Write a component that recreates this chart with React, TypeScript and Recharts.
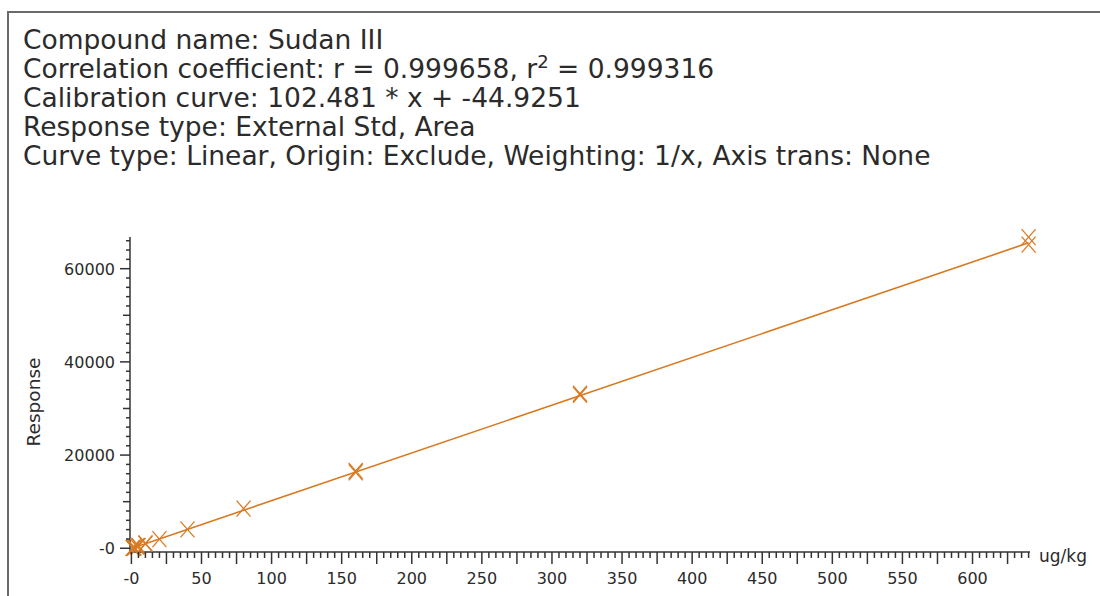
import React from 'react';
import { ComposedChart, Scatter, Line, XAxis, YAxis } from 'recharts';

// ---- text ----
const compoundLine = 'Compound name: Sudan III';
const corrPrefix = 'Correlation coefficient: r = 0.999658, r';
const corrSuffix = ' = 0.999316';
const calibLine = 'Calibration curve: 102.481 * x + -44.9251';
const responseLine = 'Response type: External Std, Area';
const curveLine = 'Curve type: Linear, Origin: Exclude, Weighting: 1/x, Axis trans: None';
const xUnitLabel = 'ug/kg';
const yTitle = 'Response';

// ---- data ----
const concX = [1, 1, 2, 2, 4, 5, 5, 10, 10, 20, 40, 80, 160, 160, 320, 320, 640, 640];
const respY = [70, 40, 160, 190, 380, 470, 520, 980, 1050, 1950, 4070, 8500, 16600, 16300, 33200, 32950, 66780, 65150];
const fitX = [0, 640];
const fitY = [-44.9, 65543];

// ---- axes ----
const xDomain = [-1, 641];
const yDomain = [-800, 66800];
const xLabelTicks = [0, 50, 100, 150, 200, 250, 300, 350, 400, 450, 500, 550, 600];
const yLabelTicks = [0, 20000, 40000, 60000];
const xMinorStep = 5;
const xMinorCount = 129;
const yMinorStep = 2000;
const yMinorCount = 34;

const xTicks = Array.from({ length: xMinorCount }, (_, i) => i * xMinorStep);
const yTicks = Array.from({ length: yMinorCount }, (_, i) => i * yMinorStep);

const points = concX.map((x, i) => ({ x, y: respY[i] }));
const fitData = fitX.map((x, i) => ({ x, y: fitY[i] }));

const ORANGE = '#D87A22';
const AXIS = '#333333';
const TEXT = '#2b2b2b';
const FONT = '"DejaVu Sans", Verdana, sans-serif';

const fmt = (v: number) => (v === 0 ? '-0' : String(v));

const XTick = (props: any) => {
  const { x, y, payload } = props;
  const v = payload.value as number;
  const isLabel = xLabelTicks.includes(v);
  const isLong = v % 25 === 0;
  const len = isLong ? 12 : 6;
  return (
    <g>
      <line x1={x} y1={y} x2={x} y2={y + len} stroke={AXIS} strokeWidth={1.5} />
      {isLabel && (
        <text x={x} y={y + 32} textAnchor="middle" fontSize={16} fontFamily={FONT} fill={TEXT}>
          {fmt(v)}
        </text>
      )}
    </g>
  );
};

const YTick = (props: any) => {
  const { x, y, payload } = props;
  const v = payload.value as number;
  const isLabel = yLabelTicks.includes(v);
  const len = isLabel ? 10 : v % 10000 === 0 ? 7 : 4;
  return (
    <g>
      <line x1={x - len} y1={y} x2={x} y2={y} stroke={AXIS} strokeWidth={1.5} />
      {isLabel && (
        <text x={x - 15} y={y + 6} textAnchor="end" fontSize={16} fontFamily={FONT} fill={TEXT}>
          {fmt(v)}
        </text>
      )}
    </g>
  );
};

const Cross = (props: any) => {
  const { cx, cy } = props;
  if (cx == null || cy == null) return null;
  const w = 7;
  const h = 8;
  return (
    <g>
      <line x1={cx - w} y1={cy - h} x2={cx + w} y2={cy + h} stroke={ORANGE} strokeWidth={1.3} />
      <line x1={cx - w} y1={cy + h} x2={cx + w} y2={cy - h} stroke={ORANGE} strokeWidth={1.3} />
    </g>
  );
};

const lineStyle: React.CSSProperties = {
  position: 'absolute',
  left: 23,
  fontFamily: FONT,
  fontSize: 26.5,
  lineHeight: '29px',
  color: TEXT,
  whiteSpace: 'nowrap',
};

export default function App() {
  return (
    <div style={{ position: 'fixed', left: 0, top: 0, width: 1100, height: 596, overflow: 'hidden', background: '#fff' }}>
      <div
        style={{
          position: 'absolute',
          left: 7,
          top: 11,
          width: 1200,
          height: 700,
          borderLeft: '2px solid #6a6a6a',
          borderTop: '2px solid #6a6a6a',
        }}
      />
      <div style={{ ...lineStyle, top: 25 }}>{compoundLine}</div>
      <div style={{ ...lineStyle, top: 54 }}>
        {corrPrefix}
        <span style={{ fontSize: 18, position: 'relative', top: -10 }}>2</span>
        {corrSuffix}
      </div>
      <div style={{ ...lineStyle, top: 83 }}>{calibLine}</div>
      <div style={{ ...lineStyle, top: 112 }}>{responseLine}</div>
      <div style={{ ...lineStyle, top: 141 }}>{curveLine}</div>
      <div style={{ position: 'absolute', left: 0, top: 0 }}>
        <ComposedChart width={1100} height={596} margin={{ top: 237, right: 70, bottom: 4, left: 0 }}>
          <XAxis
            dataKey="x"
            type="number"
            domain={xDomain}
            ticks={xTicks}
            interval={0}
            tickSize={0}
            tickMargin={0}
            tick={<XTick />}
            height={40}
            axisLine={{ stroke: AXIS, strokeWidth: 1.5 }}
            label={{
              content: (p: any) => {
                const vb = p.viewBox || {};
                return (
                  <text x={vb.x + vb.width + 9} y={vb.y + 10} fontSize={17} fontFamily={FONT} fill={TEXT}>
                    {xUnitLabel}
                  </text>
                );
              },
            }}
          />
          <YAxis
            dataKey="y"
            type="number"
            domain={yDomain}
            ticks={yTicks}
            interval={0}
            tickSize={0}
            tickMargin={0}
            tick={<YTick />}
            width={130}
            axisLine={{ stroke: AXIS, strokeWidth: 1.5 }}
            label={{
              content: () => (
                <text
                  x={40}
                  y={402}
                  transform="rotate(-90 40 402)"
                  textAnchor="middle"
                  fontSize={18.5}
                  fontFamily={FONT}
                  fill={TEXT}
                >
                  {yTitle}
                </text>
              ),
            }}
          />
          <Line
            data={fitData}
            dataKey="y"
            stroke={ORANGE}
            strokeWidth={1.6}
            dot={false}
            activeDot={false}
            isAnimationActive={false}
          />
          <Scatter data={points} dataKey="y" shape={<Cross />} isAnimationActive={false} />
        </ComposedChart>
      </div>
    </div>
  );
}
